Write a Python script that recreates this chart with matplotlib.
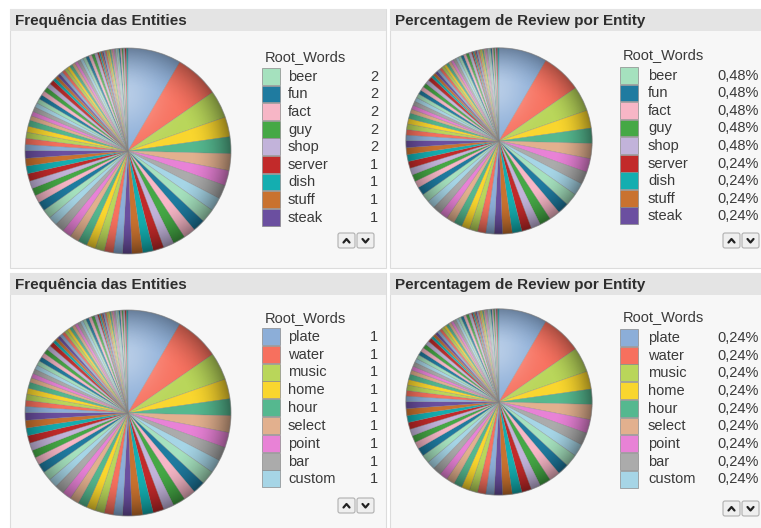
import numpy as np
import matplotlib
matplotlib.use("Agg")
import matplotlib.pyplot as plt
from matplotlib.patches import Rectangle, Circle, FancyBboxPatch

plt.rcParams['font.family'] = ['Liberation Sans', 'DejaVu Sans']

# word counts per entity, sorted descending (88 root words)
counts = [35, 29, 18, 13, 11, 11, 10, 9, 9, 9, 8, 8, 8, 7, 7, 7, 7,
          6, 6, 6, 6, 6, 6, 6, 6, 6, 6, 6, 6,
          5, 5, 5, 5, 5, 5, 5,
          4, 4, 4, 4, 4,
          3, 3, 3, 3, 3, 3, 3, 3, 3, 3,
          2, 2, 2, 2, 2, 2, 2, 2, 2, 2, 2, 2, 2, 2, 2, 2, 2,
          1, 1, 1, 1, 1, 1, 1, 1, 1, 1, 1, 1, 1, 1, 1, 1, 1, 1, 1, 1]

# legend pages that are visible in each row of panels
page_top_words = ['beer', 'fun', 'fact', 'guy', 'shop', 'server', 'dish', 'stuff', 'steak']
page_top_start = 63
page_bottom_words = ['plate', 'water', 'music', 'home', 'hour', 'select', 'point', 'bar', 'custom']
page_bottom_start = 72

palette = ['#8CAED8', '#F7705E', '#B9D65A', '#F9D62E', '#55B88F', '#E2B08E',
           '#E882D6', '#ABABAB', '#A6D5E6', '#A5E1BE', '#1F7BA0', '#F7B6C6',
           '#45A845', '#C2B3DA', '#C22A2A', '#14AEB0', '#C9722F', '#6B4FA0']

total = sum(counts)
W, H = 761, 528
fig = plt.figure(figsize=(W / 100, H / 100), dpi=100)
fig.patch.set_facecolor('white')

bg = fig.add_axes([0, 0, 1, 1])
bg.set_xlim(0, W)
bg.set_ylim(H, 0)
bg.axis('off')


def panel(x0, x1, ytitle, ybody_end, title):
    # body
    bg.add_patch(Rectangle((x0, ytitle), x1 - x0, ybody_end - ytitle,
                           facecolor='#F7F7F7', edgecolor='#DCDCDC', lw=0.8))
    # title bar
    bg.add_patch(Rectangle((x0, ytitle), x1 - x0, 22,
                           facecolor='#E4E4E4', edgecolor='none'))
    bg.text(x0 + 5, ytitle + 11.5, title, fontsize=11, fontweight='bold',
            color='#2E2E2E', va='center', ha='left')


def pie(cx, cy, r):
    ax = fig.add_axes([(cx - r) / W, 1 - (cy + r) / H, 2 * r / W, 2 * r / H])
    cols = [palette[i % len(palette)] for i in range(len(counts))]
    ax.pie(counts, colors=cols, startangle=90, counterclock=False, radius=1,
           wedgeprops=dict(edgecolor=(0.5, 0.5, 0.5, 0.45), linewidth=0.4))

    # spherical shading over the pie
    n = 300
    xs = np.linspace(-1, 1, n)
    X, Y = np.meshgrid(xs, xs[::-1])
    rho = np.sqrt(X ** 2 + Y ** 2)
    dark = 0.42 * np.clip((rho - 0.6) / 0.4, 0, 1) ** 2
    dark *= 0.7 + 0.3 * np.clip((X - Y) / 1.4 + 0.5, 0, 1)
    shade = np.zeros((n, n, 4))
    shade[..., 3] = dark
    light = 0.38 * np.exp(-((X + 0.05) ** 2 + (Y - 0.55) ** 2) / 0.12)
    hl = np.ones((n, n, 4))
    hl[..., 3] = light
    clip = Circle((0, 0), 1, transform=ax.transData)
    for img in (hl, shade):
        im = ax.imshow(img, extent=[-1, 1, -1, 1], zorder=5, interpolation='bilinear')
        im.set_clip_path(clip)
    ax.set_aspect('auto')
    ax.set_xlim(-1.02, 1.02)
    ax.set_ylim(-1.02, 1.02)
    ax.axis('off')
    ax.add_patch(Circle((0, 0), 1, fill=False, edgecolor=(0.5, 0.5, 0.5, 0.5),
                        lw=0.8, zorder=6))


def legend(x_sw, y_head, y_top, row, words, start, x_label, x_val, percent):
    bg.text(x_sw + 3, y_head, 'Root_Words', fontsize=10.5, color='#3A3A3A',
            va='center', ha='left')
    for i, w in enumerate(words):
        idx = start + i
        y = y_top + i * row
        bg.add_patch(Rectangle((x_sw, y), 18, row - 0.8,
                               facecolor=palette[idx % len(palette)],
                               edgecolor='#8A8A8A', lw=0.5))
        bg.text(x_label, y + row / 2, w, fontsize=10.5, color='#3A3A3A',
                va='center', ha='left')
        v = counts[idx]
        if percent:
            s = '{:.2f}%'.format(100 * v / total).replace('.', ',')
        else:
            s = str(v)
        bg.text(x_val, y + row / 2, s, fontsize=10.5, color='#3A3A3A',
                va='center', ha='right')


def buttons(x0, y0):
    for k in range(2):
        bx = x0 + k * 19
        bg.add_patch(FancyBboxPatch((bx, y0), 17, 15,
                                    boxstyle='round,pad=0,rounding_size=2',
                                    facecolor='#EFEFEF', edgecolor='#B0B0B0', lw=0.8))
        cxb = bx + 8.5
        if k == 0:
            bg.plot([cxb - 3, cxb, cxb + 3], [y0 + 9.5, y0 + 6, y0 + 9.5],
                    color='#222222', lw=1.6, solid_capstyle='round')
        else:
            bg.plot([cxb - 3, cxb, cxb + 3], [y0 + 6, y0 + 9.5, y0 + 6],
                    color='#222222', lw=1.6, solid_capstyle='round')


panel(10, 386, 9, 268, 'Frequência das Entities')
panel(390, 770, 9, 268, 'Percentagem de Review por Entity')
panel(10, 386, 273, 535, 'Frequência das Entities')
panel(390, 770, 273, 535, 'Percentagem de Review por Entity')

pie(128, 151, 105)
pie(499, 141, 95)
pie(128, 413, 105)
pie(499, 402, 95)

legend(262, 57, 68, 17.6, page_top_words, page_top_start, 288, 378, False)
legend(620, 55, 67, 17.55, page_top_words, page_top_start, 648, 759, True)
legend(262, 318, 328, 17.8, page_bottom_words, page_bottom_start, 288, 378, False)
legend(620, 317, 329, 17.7, page_bottom_words, page_bottom_start, 648, 759, True)

buttons(338, 233)
buttons(723, 233)
buttons(338, 498)
buttons(723, 501)

fig.savefig('out.png', dpi=100)
